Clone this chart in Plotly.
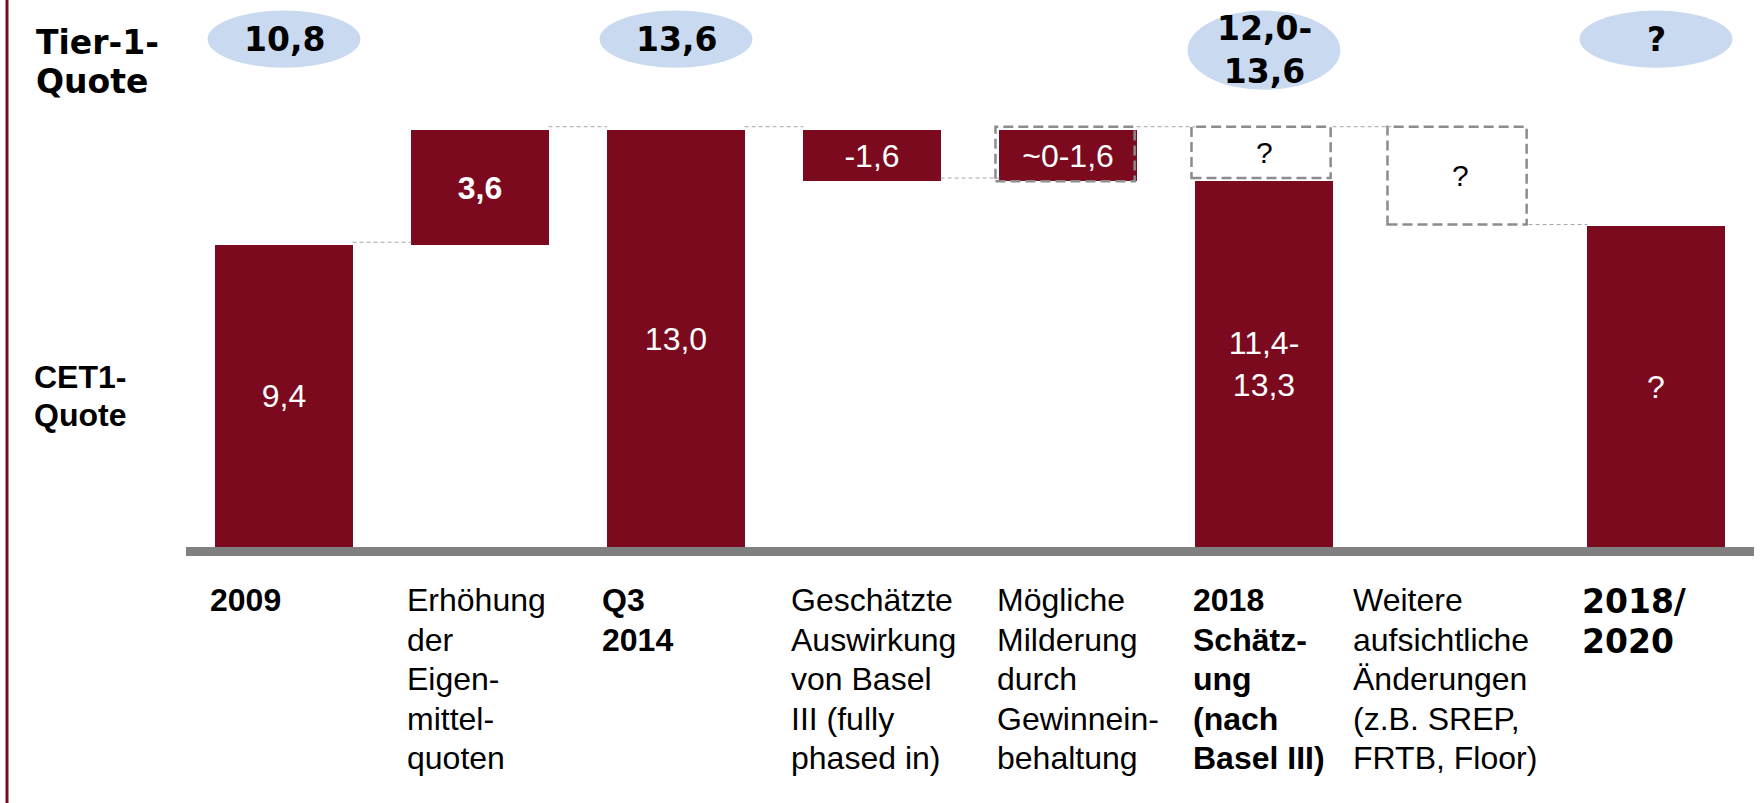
import plotly.graph_objects as go

# column labels under the axis
labels = [
    "2009",
    "Erhöhung<br>der<br>Eigen-<br>mittel-<br>quoten",
    "Q3<br>2014",
    "Geschätzte<br>Auswirkung<br>von Basel<br>III (fully<br>phased in)",
    "Mögliche<br>Milderung<br>durch<br>Gewinnein-<br>behaltung",
    "2018<br>Schätz-<br>ung<br>(nach<br>Basel III)",
    "Weitere<br>aufsichtliche<br>Änderungen<br>(z.B. SREP,<br>FRTB, Floor)",
    "2018/<br>2020",
]
label_bold = [True, False, True, False, False, True, False, True]

# CET1 waterfall: base and height of each bar (None = no filled bar)
bar_base = [0, 9.4, 0, 11.4, 11.4, 0, None, 0]
bar_height = [9.4, 3.6, 13.0, 1.6, 1.6, 11.4, None, 10.0]
bar_text = ["9,4", "<b>3,6</b>", "13,0", "-1,6", "~0-1,6", "11,4-<br>13,3", "", "?"]

# uncertain parts drawn as dashed boxes
box_index = [4, 5, 6]
box_low = [11.4, 11.5, 10.05]
box_high = [13.1, 13.1, 13.1]
box_text = ["", "?", "?"]

# level of the dotted connector between column i and i+1
connector_level = [9.5, 13.1, 13.1, 11.5, 13.1, 13.1, 10.05]

# Tier-1 ratios shown in the ellipses
tier1_index = [0, 2, 5, 7]
tier1_text = ["10,8", "13,6", "12,0-<br>13,6", "?"]

RED = "#7B0A1E"
GREY = "#808080"
ARIAL = "Liberation Sans, Arial, sans-serif"
VERDANA = "DejaVu Sans, Verdana, sans-serif"
HALF = 0.35  # half bar width in category units
LINE_H = 39.6  # px between label lines

x = list(range(len(labels)))

fig = go.Figure()

fig.add_trace(go.Bar(
    x=x,
    y=bar_height,
    base=bar_base,
    width=2 * HALF,
    marker=dict(color=RED, line=dict(width=0)),
    text=bar_text,
    textposition="inside",
    insidetextanchor="middle",
    textangle=0,
    constraintext="none",
    textfont=dict(family=ARIAL, size=32, color="white"),
    hoverinfo="skip",
))

shapes = []
annotations = []

# dotted connectors
for i, lvl in enumerate(connector_level):
    shapes.append(dict(
        type="line", xref="x", yref="y",
        x0=i + HALF, x1=i + 1 - HALF, y0=lvl, y1=lvl,
        line=dict(color="#A6A6A6", width=1, dash="4px,3px"),
    ))

# dashed boxes
for i, lo, hi, t in zip(box_index, box_low, box_high, box_text):
    shapes.append(dict(
        type="rect", xref="x", yref="y", layer="above",
        x0=i - HALF - 0.02, x1=i + HALF - 0.01, y0=lo, y1=hi,
        line=dict(color="#8C8C8C", width=2.5, dash="10px,5px"),
    ))
    if t:
        annotations.append(dict(
            x=i, y=(lo + hi) / 2, xref="x", yref="y", text=t, showarrow=False,
            font=dict(family=ARIAL, size=30, color="black"),
        ))

# Tier-1 ellipses
for i, t in zip(tier1_index, tier1_text):
    tall = "<br>" in t
    y0 = 14.25 if tall else 14.94
    y1 = 16.72
    shapes.append(dict(
        type="circle", xref="x", yref="y", layer="below",
        x0=i - 0.39, x1=i + 0.39, y0=y0, y1=y1,
        fillcolor="#C9D9EF", line=dict(width=0),
    ))
    annotations.append(dict(
        x=i, y=(y0 + y1) / 2, xref="x", yref="y", text=t, showarrow=False,
        font=dict(family=VERDANA, size=33, color="black", weight="bold"),
    ))

# left side row titles
for txt, yv, fam, sh in [("Tier-1-", 15.72, VERDANA, -152), ("Quote", 14.5, VERDANA, -152),
                         ("CET1-", 5.31, ARIAL, -154), ("Quote", 4.11, ARIAL, -154)]:
    annotations.append(dict(
        x=0, y=yv, xref="paper", yref="y", xanchor="left", xshift=sh,
        text=txt, showarrow=False,
        font=dict(family=fam, size=33 if fam == VERDANA else 32, color="black", weight="bold"),
    ))

# column labels, one annotation per line to keep the tight line spacing
label_shift = [-7, -6, -7, -14, -4, -4, -40, -7]
for i, (t, bold, dx) in enumerate(zip(labels, label_bold, label_shift)):
    fam = VERDANA if i == len(labels) - 1 else ARIAL
    for k, line in enumerate(t.split("<br>")):
        annotations.append(dict(
            x=i - HALF, y=0, xref="x", yref="paper", xanchor="left", yanchor="top",
            xshift=dx, yshift=-33 - LINE_H * k, align="left",
            text=f"<b>{line}</b>" if bold else line, showarrow=False,
            font=dict(family=fam, size=33 if fam == VERDANA else 32, color="black"),
        ))

# red rule at the left edge of the slide
shapes.append(dict(
    type="line", xref="paper", yref="paper", xsizemode="pixel", xanchor=0,
    x0=-179, x1=-179, y0=-0.47, y1=1,
    line=dict(color=RED, width=3),
))

fig.update_layout(
    width=1762,
    height=803,
    margin=dict(l=186, r=8, t=0, b=256),
    paper_bgcolor="white",
    plot_bgcolor="white",
    showlegend=False,
    hovermode=False,
    bargap=0,
    shapes=shapes,
    annotations=annotations,
    xaxis=dict(range=[-0.5, 7.5], showticklabels=False, showgrid=False, zeroline=False,
               ticks="", showline=True, linewidth=9, linecolor=GREY, fixedrange=True),
    yaxis=dict(range=[0, 17.05], visible=False, fixedrange=True),
)

fig.write_html(
    "out.html",
    config={"displayModeBar": False},
    post_script="document.body.style.margin='0';document.body.style.overflow='hidden';",
)
